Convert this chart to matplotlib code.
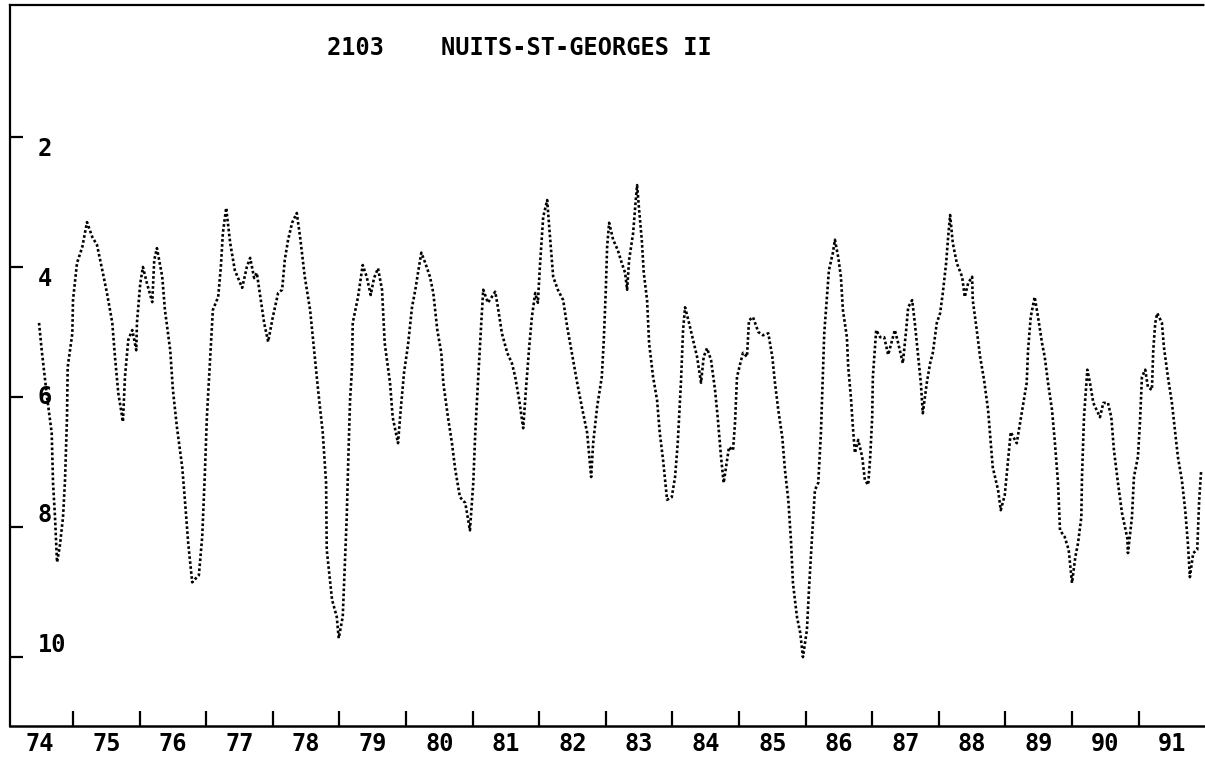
import numpy as np
import matplotlib
matplotlib.use("Agg")
import matplotlib.pyplot as plt

plt.rcParams['font.family'] = ['DejaVu Sans Mono']
plt.rcParams['font.weight'] = 'bold'

title = "2103    NUITS-ST-GEORGES II"
year_labels = ["74", "75", "76", "77", "78", "79", "80", "81", "82",
               "83", "84", "85", "86", "87", "88", "89", "90", "91"]
y_ticks = [2, 4, 6, 8, 10]

# (decimal year, value)
years = [74.49, 74.53, 74.61, 74.68, 74.70, 74.73, 74.76, 74.80, 74.85, 74.88,
         74.91, 74.92, 74.99, 75.00, 75.06, 75.14, 75.21, 75.29, 75.36, 75.44,
         75.51, 75.59, 75.63, 75.68, 75.75, 75.78, 75.83, 75.89, 75.95, 75.96,
         76.01, 76.05, 76.11, 76.19, 76.22, 76.26, 76.34, 76.38, 76.46, 76.50,
         76.56, 76.64, 76.68, 76.73, 76.79, 76.86, 76.89, 76.94, 76.98, 77.01,
         77.06, 77.10, 77.18, 77.22, 77.25, 77.30, 77.36, 77.43, 77.54, 77.61,
         77.66, 77.72, 77.76, 77.82, 77.87, 77.93, 78.00, 78.08, 78.14, 78.18,
         78.23, 78.29, 78.36, 78.41, 78.48, 78.56, 78.63, 78.68, 78.75, 78.80,
         78.81, 78.89, 78.96, 78.99, 79.05, 79.08, 79.11, 79.13, 79.16, 79.19,
         79.20, 79.28, 79.35, 79.41, 79.47, 79.52, 79.58, 79.64, 79.68, 79.76,
         79.80, 79.88, 79.92, 79.97, 80.03, 80.09, 80.14, 80.18, 80.23, 80.29,
         80.36, 80.41, 80.47, 80.53, 80.56, 80.63, 80.69, 80.74, 80.81, 80.89,
         80.96, 81.01, 81.04, 81.08, 81.13, 81.16, 81.23, 81.34, 81.38, 81.44,
         81.52, 81.59, 81.64, 81.70, 81.76, 81.80, 81.85, 81.89, 81.94, 81.98,
         82.01, 82.06, 82.12, 82.15, 82.21, 82.28, 82.36, 82.42, 82.49, 82.57,
         82.64, 82.72, 82.78, 82.81, 82.87, 82.94, 82.97, 83.00, 83.02, 83.05,
         83.11, 83.18, 83.24, 83.29, 83.32, 83.35, 83.41, 83.45, 83.47, 83.50,
         83.54, 83.57, 83.62, 83.65, 83.71, 83.77, 83.81, 83.86, 83.92, 83.99,
         84.04, 84.08, 84.13, 84.16, 84.19, 84.25, 84.31, 84.37, 84.43, 84.47,
         84.52, 84.58, 84.64, 84.68, 84.73, 84.77, 84.82, 84.85, 84.91, 84.94,
         84.97, 85.02, 85.06, 85.12, 85.15, 85.21, 85.29, 85.36, 85.44, 85.50,
         85.54, 85.59, 85.65, 85.69, 85.74, 85.78, 85.81, 85.87, 85.92, 85.96,
         86.02, 86.05, 86.10, 86.14, 86.19, 86.23, 86.26, 86.28, 86.32, 86.35,
         86.41, 86.44, 86.49, 86.53, 86.56, 86.62, 86.64, 86.68, 86.71, 86.74,
         86.79, 86.85, 86.89, 86.94, 86.97, 87.00, 87.01, 87.06, 87.12, 87.18,
         87.24, 87.30, 87.34, 87.39, 87.46, 87.51, 87.54, 87.60, 87.64, 87.69,
         87.73, 87.76, 87.82, 87.87, 87.91, 87.97, 88.02, 88.06, 88.11, 88.14,
         88.17, 88.21, 88.27, 88.35, 88.39, 88.44, 88.50, 88.51, 88.57, 88.62,
         88.68, 88.74, 88.78, 88.81, 88.89, 88.93, 88.99, 89.04, 89.08, 89.17,
         89.22, 89.26, 89.32, 89.34, 89.38, 89.44, 89.49, 89.55, 89.59, 89.64,
         89.70, 89.74, 89.79, 89.82, 89.89, 89.95, 90.00, 90.05, 90.09, 90.14,
         90.15, 90.18, 90.23, 90.27, 90.32, 90.42, 90.47, 90.54, 90.59, 90.63,
         90.69, 90.75, 90.83, 90.84, 90.90, 90.93, 90.99, 91.02, 91.05, 91.10,
         91.14, 91.20, 91.22, 91.25, 91.28, 91.35, 91.38, 91.44, 91.50, 91.55,
         91.59, 91.65, 91.70, 91.74, 91.77, 91.82, 91.88, 91.91, 91.94]
values = [4.86, 5.28, 6.00, 6.55, 7.32, 7.85, 8.54, 8.31, 7.85, 7.28,
          6.31, 5.54, 5.02, 4.51, 3.94, 3.69, 3.31, 3.54, 3.66, 4.05,
          4.40, 4.86, 5.38, 5.94, 6.38, 5.69, 5.12, 4.97, 5.28, 4.86,
          4.25, 4.00, 4.25, 4.54, 3.89, 3.71, 4.15, 4.66, 5.28, 5.89,
          6.46, 7.08, 7.58, 8.25, 8.85, 8.77, 8.74, 8.15, 7.17, 6.31,
          5.38, 4.66, 4.46, 4.00, 3.48, 3.09, 3.63, 4.05, 4.32, 4.00,
          3.86, 4.17, 4.09, 4.51, 4.86, 5.15, 4.77, 4.40, 4.35, 3.89,
          3.58, 3.32, 3.17, 3.54, 4.15, 4.66, 5.38, 5.89, 6.55, 7.32,
          8.35, 9.12, 9.38, 9.71, 9.38, 8.62, 7.85, 7.08, 6.05, 5.54,
          4.86, 4.46, 3.97, 4.15, 4.43, 4.17, 4.02, 4.35, 5.17, 5.78,
          6.31, 6.71, 6.20, 5.63, 5.20, 4.62, 4.35, 4.09, 3.78, 3.94,
          4.15, 4.40, 4.97, 5.32, 5.78, 6.31, 6.71, 7.12, 7.54, 7.63,
          8.05, 7.32, 6.55, 5.78, 4.86, 4.35, 4.55, 4.38, 4.62, 5.02,
          5.32, 5.48, 5.69, 6.05, 6.48, 5.89, 5.23, 4.77, 4.40, 4.55,
          4.00, 3.23, 2.97, 3.38, 4.15, 4.35, 4.51, 4.92, 5.32, 5.78,
          6.15, 6.55, 7.23, 6.71, 6.15, 5.69, 5.12, 4.35, 3.69, 3.32,
          3.58, 3.74, 3.94, 4.09, 4.35, 3.89, 3.48, 2.97, 2.74, 3.12,
          3.58, 4.09, 4.51, 5.17, 5.69, 6.05, 6.55, 6.97, 7.58, 7.54,
          7.23, 6.71, 5.74, 4.97, 4.62, 4.86, 5.12, 5.38, 5.78, 5.38,
          5.25, 5.43, 5.89, 6.31, 6.92, 7.32, 6.97, 6.77, 6.82, 6.40,
          5.69, 5.48, 5.32, 5.38, 4.82, 4.77, 5.00, 5.05, 5.02, 5.38,
          5.78, 6.20, 6.62, 7.12, 7.58, 8.20, 8.86, 9.38, 9.63, 10.00,
          9.58, 8.97, 8.09, 7.43, 7.32, 6.55, 5.63, 5.02, 4.46, 4.05,
          3.78, 3.58, 3.85, 4.15, 4.66, 5.08, 5.54, 6.00, 6.46, 6.86,
          6.66, 6.92, 7.28, 7.35, 6.92, 6.31, 5.69, 4.97, 5.08, 5.08,
          5.35, 5.12, 4.97, 5.17, 5.48, 4.97, 4.62, 4.51, 4.86, 5.38,
          5.78, 6.25, 5.78, 5.48, 5.32, 4.86, 4.71, 4.40, 3.94, 3.54,
          3.20, 3.63, 3.94, 4.15, 4.46, 4.25, 4.15, 4.51, 4.97, 5.38,
          5.74, 6.20, 6.71, 7.08, 7.43, 7.74, 7.51, 6.97, 6.54, 6.71,
          6.40, 6.15, 5.78, 5.28, 4.77, 4.46, 4.77, 5.17, 5.38, 5.78,
          6.20, 6.66, 7.32, 8.05, 8.15, 8.35, 8.86, 8.46, 8.25, 7.85,
          7.23, 6.31, 5.58, 5.78, 6.09, 6.31, 6.09, 6.09, 6.31, 6.82,
          7.32, 7.78, 8.17, 8.40, 7.85, 7.23, 6.92, 6.40, 5.69, 5.58,
          5.85, 5.89, 5.28, 4.86, 4.71, 4.86, 5.23, 5.69, 6.09, 6.55,
          6.92, 7.28, 7.74, 8.25, 8.77, 8.40, 8.35, 7.58, 7.12]

fig = plt.figure(figsize=(12.05, 7.62), dpi=100)
ax = fig.add_axes([10 / 1205, 36 / 762, 1195 / 1205, 721 / 762])

ax.plot(years, values, color='black', lw=1.9, linestyle=(0, (1, 0.9)))

ax.set_xlim(74.054, 91.997)
ax.set_ylim(11.06, -0.03)

# frame like the printout: dotted left/top, solid base line
for side in ['left', 'top']:
    ax.spines[side].set_linestyle((0, (1, 1)))
    ax.spines[side].set_linewidth(1.6)
ax.spines['bottom'].set_linewidth(1.8)
ax.spines['right'].set_visible(False)

ax.set_yticks(y_ticks)
ax.set_yticklabels([str(v) for v in y_ticks])
ax.tick_params(axis='y', direction='in', length=9, width=1.6, pad=-20,
               labelsize=17)
for lab, va in zip(ax.get_yticklabels(), ['top', 'top', 'center', 'bottom', 'bottom']):
    lab.set_horizontalalignment('left')
    lab.set_verticalalignment(va)

ax.set_xticks(np.arange(75, 92))
ax.set_xticklabels([])
ax.set_xticks(np.arange(74.5, 92, 1), minor=True)
ax.set_xticklabels(year_labels, minor=True)
ax.tick_params(axis='x', which='major', direction='in', length=11, width=1.6)
ax.tick_params(axis='x', which='minor', length=0, pad=4, labelsize=17)

fig.text(327 / 1205, 1 - 48 / 762, title, fontsize=17, fontweight='bold',
         ha='left', va='center')

fig.savefig("out.png", dpi=100)
